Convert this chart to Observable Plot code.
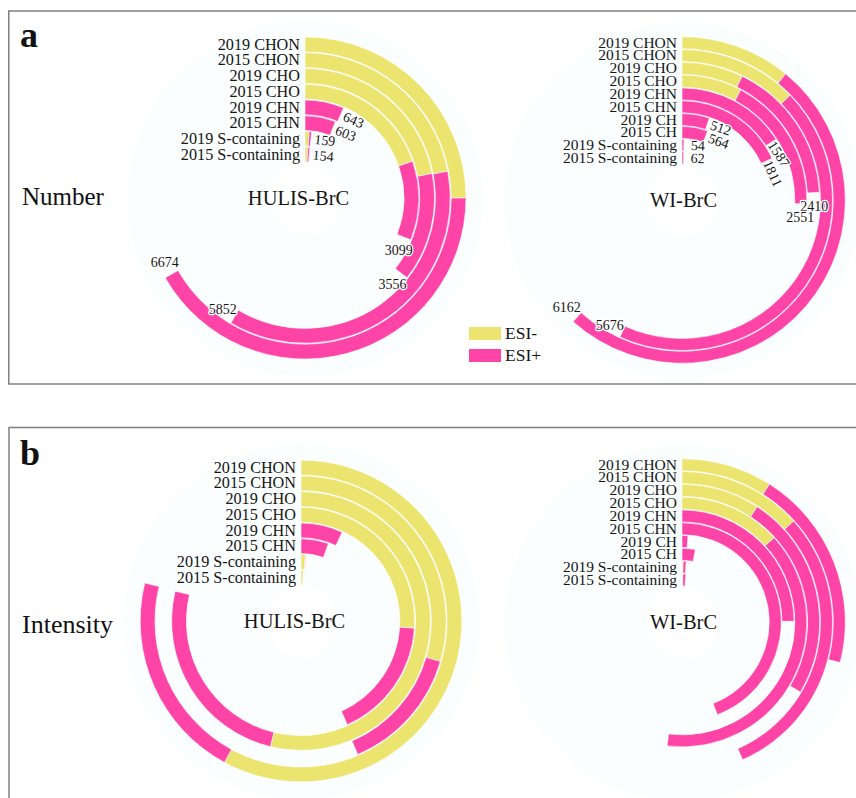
<!DOCTYPE html>
<html>
<head>
<meta charset="utf-8">
<script src="https://cdn.jsdelivr.net/npm/d3@7"></script>
<script src="https://cdn.jsdelivr.net/npm/@observablehq/plot@0.6"></script>
<style>
  html, body { margin: 0; padding: 0; background: #fff; overflow: hidden; }
  #page { position: relative; width: 856px; height: 798px; overflow: hidden; }
  #deco { position: absolute; left: 0; top: 0; }
  .chart { position: absolute; width: 380px; height: 380px; }
  .chart svg { overflow: visible; }
  #legend { position: absolute; left: 469px; top: 323px; width: 120px; }
  .esi-swatch > svg { margin-right: 4px !important; }
  .esi-swatch { padding-bottom: 0 !important; }
</style>
</head>
<body>
<div id="page"></div>
<script>
// Molecular groups shown as rings, outermost first
const categoriesHULIS = ["2019 CHON", "2015 CHON", "2019 CHO", "2015 CHO", "2019 CHN", "2015 CHN", "2019 S-containing", "2015 S-containing"];
const categoriesWI = ["2019 CHON", "2015 CHON", "2019 CHO", "2015 CHO", "2019 CHN", "2015 CHN", "2019 CH", "2015 CH", "2019 S-containing", "2015 S-containing"];
const modes = ["ESI-", "ESI+"];

// (a) Number of formulas; full circle = 10000
const numberFull = 10000;
const numberHULISNeg = [2500, 2205, 2197, 1975, 0, 0, 100, 90];
const numberHULISPos = [4174, 3647, 1359, 1124, 643, 603, 59, 64];
const numberWINeg = [1095, 1275, 720, 780, 0, 0, 0, 0, 0, 0];
const numberWIPos = [5067, 4401, 1690, 1771, 1587, 1811, 512, 564, 54, 62];

// (b) Relative intensity; full circle = 100
const intensityFull = 100;
const intensityHULISNeg = [57.9, 29.5, 53.8, 26.0, 0, 0, 1.1, 0.7];
const intensityHULISPos = [20.9, 14.1, 24.9, 17.3, 6.9, 5.4, 0.1, 0];
const intensityWINeg = [9.0, 13.3, 9.2, 13.2, 0, 0, 0, 0, 0.3, 0.3];
const intensityWIPos = [20.0, 30.1, 24.3, 38.7, 24.9, 44.2, 1.1, 2.9, 0.8, 1.0];

const SERIF = "'Liberation Serif', 'Times New Roman', serif";
const INK = "#151515";
const YELLOW = "#ebe46e";
const PINK = "#fe44a7";
const SIZE = 380;
const INNER_RADIUS = 36;
const BG_RADIUS = 178;

const center = (d) => [(d.marginLeft + d.width - d.marginRight) / 2, (d.marginTop + d.height - d.marginBottom) / 2];
const bandwidthOf = (s) => (typeof s.bandwidth === "function" ? s.bandwidth() : s.bandwidth);

// Stacked bars drawn as annular sectors: x is the angle, y the ring
function renderArcs(index, scales, values, dimensions) {
  const {x1: X1, x2: X2, y: Y, fill: F} = values;
  const bw = bandwidthOf(scales.y);
  const [cx, cy] = center(dimensions);
  const arc = d3.arc();
  const g = d3.create("svg:g").attr("transform", `translate(${cx},${cy})`);
  g.selectAll("path")
    .data(Array.from(index).filter((i) => X2[i] > X1[i]))
    .join("path")
    .attr("d", (i) => arc({innerRadius: Y[i], outerRadius: Y[i] + bw, startAngle: X1[i], endAngle: X2[i]}))
    .attr("fill", (i) => F[i])
    .attr("stroke", "white")
    .attr("stroke-width", 0.6);
  return g.node();
}

// Group names, right-aligned just left of each ring's start
function ringLabels(fontSize) {
  return function (index, scales, values, dimensions) {
    const {y: Y, text: T} = values;
    const bw = bandwidthOf(scales.y);
    const [cx, cy] = center(dimensions);
    const g = d3.create("svg:g")
      .attr("font-family", SERIF).attr("font-size", fontSize)
      .attr("fill", INK).attr("text-anchor", "end");
    g.selectAll("text").data(Array.from(index)).join("text")
      .attr("x", cx - 5)
      .attr("y", (i) => cy - (Y[i] + bw / 2))
      .attr("dy", "0.32em")
      .text((i) => T[i]);
    return g.node();
  };
}

// Totals placed just past the end of each ring
function renderValueLabels(index, scales, values, dimensions) {
  const {x: X, y: Y, text: T} = values;
  const bw = bandwidthOf(scales.y);
  const [cx, cy] = center(dimensions);
  const g = d3.create("svg:g")
    .attr("font-family", SERIF).attr("font-size", 14)
    .attr("fill", INK).attr("text-anchor", "middle")
    .attr("stroke", "white").attr("stroke-width", 2.5)
    .attr("paint-order", "stroke").attr("stroke-linejoin", "round");
  g.selectAll("text").data(Array.from(index)).join("text")
    .attr("transform", (i) => {
      const a = X[i];
      const r = Y[i] + bw / 2;
      const px = cx + r * Math.sin(a) + 14 * Math.cos(a);
      const py = cy - r * Math.cos(a) + 14 * Math.sin(a);
      const deg = (a * 180) / Math.PI;
      return `translate(${px},${py}) rotate(${deg < 80 ? deg : 0})`;
    })
    .attr("dy", "0.32em")
    .text((i) => T[i]);
  return g.node();
}

function radialChart({categories, negative, positive, full, title, titleDx, outerRadius, labelSize, showValues}) {
  const rows = categories.flatMap((category, i) => [
    {category, mode: "ESI-", value: negative[i]},
    {category, mode: "ESI+", value: positive[i]}
  ]);
  const totals = categories.map((category, i) => ({category, total: Math.round((negative[i] + positive[i]) * 10) / 10}));
  const marks = [
    Plot.dot([0], {frameAnchor: "middle", r: BG_RADIUS, fill: "#fbfeff"}),
    Plot.dot([0], {frameAnchor: "middle", r: INNER_RADIUS, fill: "white"}),
    Plot.barX(rows, Plot.stackX({x: "value", y: "category", fill: "mode", render: renderArcs})),
    Plot.text(categories, {x: () => 0, y: (d) => d, text: (d) => d, render: ringLabels(labelSize)}),
    Plot.text([title], {frameAnchor: "middle", text: (d) => d, dx: titleDx, fontSize: 20.5, fontFamily: SERIF, fill: INK})
  ];
  if (showValues) {
    marks.push(Plot.text(totals, {x: "total", y: "category", text: (d) => String(d.total), render: renderValueLabels}));
  }
  return Plot.plot({
    width: SIZE,
    height: SIZE,
    margin: 0,
    style: "background: transparent; overflow: visible;",
    x: {type: "linear", domain: [0, full], range: [0, 2 * Math.PI], axis: null},
    y: {type: "band", domain: categories, range: [outerRadius, INNER_RADIUS], paddingInner: 0.06, paddingOuter: 0, round: false, axis: null},
    color: {domain: modes, range: [YELLOW, PINK]},
    marks
  });
}

const page = d3.select("#page");

// Panel frames, panel letters and row titles
const deco = page.append("svg").attr("id", "deco").attr("width", 856).attr("height", 798);
deco.append("path").attr("d", "M856,11H8.75V384H856").attr("fill", "none").attr("stroke", "#808080").attr("stroke-width", 1.5);
deco.append("path").attr("d", "M856,427.5H9V800").attr("fill", "none").attr("stroke", "#808080").attr("stroke-width", 1.5);
const decoText = (x, y, text, size, weight) =>
  deco.append("text").attr("x", x).attr("y", y).attr("font-family", SERIF)
    .attr("font-size", size).attr("font-weight", weight).attr("fill", "#111").text(text);
decoText(20, 47, "a", 36, "bold");
decoText(20, 465, "b", 36, "bold");
decoText(22, 205, "Number", 25, "normal");
decoText(22, 633, "Intensity", 26, "normal");

const charts = [
  {cx: 305.3, cy: 198.2, outerRadius: 161, labelSize: 16.2, categories: categoriesHULIS, negative: numberHULISNeg, positive: numberHULISPos, full: numberFull, title: "HULIS-BrC", titleDx: -7, showValues: true},
  {cx: 681.7, cy: 200, outerRadius: 163.3, labelSize: 15.5, categories: categoriesWI, negative: numberWINeg, positive: numberWIPos, full: numberFull, title: "WI-BrC", titleDx: 1, showValues: true},
  {cx: 301, cy: 620.8, outerRadius: 160.8, labelSize: 16.2, categories: categoriesHULIS, negative: intensityHULISNeg, positive: intensityHULISPos, full: intensityFull, title: "HULIS-BrC", titleDx: -7, showValues: false},
  {cx: 681.5, cy: 622.3, outerRadius: 163.3, labelSize: 15.5, categories: categoriesWI, negative: intensityWINeg, positive: intensityWIPos, full: intensityFull, title: "WI-BrC", titleDx: 1, showValues: false}
];

for (const c of charts) {
  const holder = page.append("div").attr("class", "chart")
    .style("left", `${c.cx - SIZE / 2}px`).style("top", `${c.cy - SIZE / 2}px`);
  holder.node().appendChild(radialChart(c));
}

// ESI mode legend
const legend = Plot.legend({
  color: {domain: modes, range: [YELLOW, PINK]},
  legend: "swatches",
  columns: 1,
  swatchWidth: 32,
  swatchHeight: 13,
  className: "esi",
  style: {fontSize: "17.5px", fontFamily: SERIF, lineHeight: "21.7px", color: INK, background: "transparent"}
});
page.append("div").attr("id", "legend").node().appendChild(legend);
</script>
</body>
</html>
